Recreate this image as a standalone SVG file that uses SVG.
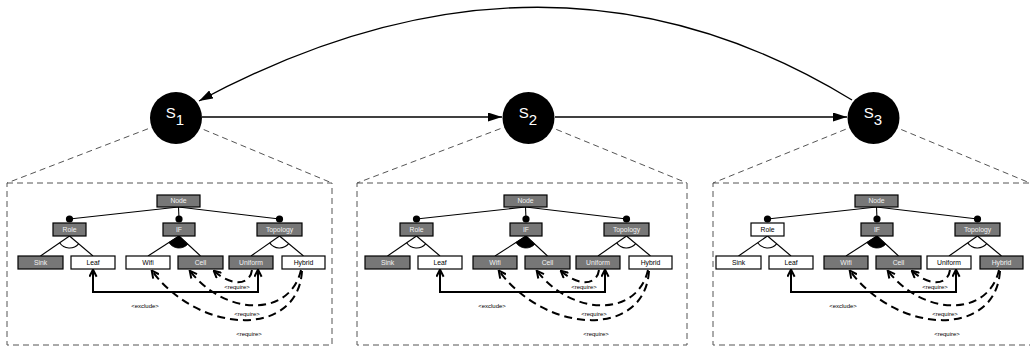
<svg xmlns="http://www.w3.org/2000/svg" width="1030" height="347" viewBox="0 0 1030 347">
<style>
.bg{fill:#fff}
.frame{fill:none;stroke:#555;stroke-width:1;stroke-dasharray:6 4}
.lead{stroke:#555;stroke-width:1;stroke-dasharray:6 4}
.state{fill:#000}
.st{font-family:"Liberation Sans",Arial,sans-serif;font-size:15px;fill:#fff;text-anchor:middle}
.main{fill:none;stroke:#000;stroke-width:1.3}
.b{stroke:#000;stroke-width:1.2}
.g{fill:#777}
.w{fill:#fff}
.lb{font-family:"Liberation Sans",Arial,sans-serif;font-size:6.8px;text-anchor:middle}
.lg{fill:#f2f2f2}
.lw{fill:#000}
.tl{fill:none;stroke:#000;stroke-width:1.1}
.mand{fill:#000}
.orf{fill:#000;stroke:#000;stroke-width:0.8}
.exc{fill:none;stroke:#000;stroke-width:2;marker-start:url(#open);marker-end:url(#open)}
.req{fill:none;stroke:#000;stroke-width:2;stroke-dasharray:8 5;marker-end:url(#open)}
.cl{font-family:"Liberation Sans",Arial,sans-serif;font-size:6px;text-anchor:middle;fill:#000}
</style>
<defs>
<marker id="tri" viewBox="0 0 10 10" refX="10" refY="5" markerWidth="14" markerHeight="9" markerUnits="userSpaceOnUse" orient="auto" preserveAspectRatio="none">
<path d="M0,0 L10,5 L0,10 Z" fill="#000"/>
</marker>
<marker id="open" viewBox="0 0 10 10" refX="8.5" refY="5" markerWidth="9" markerHeight="9" markerUnits="userSpaceOnUse" orient="auto-start-reverse">
<path d="M1,1 L9,5 L1,9" fill="none" stroke="#000" stroke-width="2.2"/>
</marker>
</defs>
<rect class="bg" x="0" y="0" width="1030" height="347"/>

<g id="frames">
<line class="lead" x1="176" y1="118" x2="7" y2="183"/>
<line class="lead" x1="176" y1="118" x2="332" y2="183"/>
<line class="lead" x1="528.5" y1="118" x2="357" y2="183"/>
<line class="lead" x1="528.5" y1="118" x2="687" y2="183"/>
<line class="lead" x1="873.5" y1="118" x2="713" y2="183"/>
<line class="lead" x1="873.5" y1="118" x2="1030" y2="183"/>
<rect class="frame" x="7" y="183" width="325" height="162"/>
<rect class="frame" x="357" y="183" width="330" height="162"/>
<rect class="frame" x="713" y="183" width="330" height="162"/>
</g>

<g id="connectors">
<path class="main" d="M202,117 L502,117" marker-end="url(#tri)"/>
<path class="main" d="M555,117 L847,117" marker-end="url(#tri)"/>
<path class="main" d="M852,100 Q548,-86 199,101" marker-end="url(#tri)"/>
</g>

<g id="S1"><circle class="state" cx="176" cy="118" r="26"/><text class="st" x="175" y="117.5">S<tspan dy="7.5">1</tspan></text></g>
<g id="S2"><circle class="state" cx="528.5" cy="118" r="26"/><text class="st" x="528" y="117.5">S<tspan dy="7.5">2</tspan></text></g>
<g id="S3"><circle class="state" cx="873.5" cy="118" r="26"/><text class="st" x="873" y="117.5">S<tspan dy="7.5">3</tspan></text></g>

<!-- Feature model 1 -->
<g id="fm1">
<g id="fm1-connectors">
<line class="tl" x1="178.5" y1="207" x2="69.5" y2="219"/>
<line class="tl" x1="178.5" y1="207" x2="179" y2="219"/>
<line class="tl" x1="178.5" y1="207" x2="279.5" y2="219"/>
<line class="tl" x1="69.5" y1="236" x2="40.5" y2="256"/>
<line class="tl" x1="69.5" y1="236" x2="93" y2="256"/>
<path class="tl" d="M59.6,242.8 A12,12 0 0,0 78.6,243.8"/>
<line class="tl" x1="179" y1="236" x2="148" y2="256"/>
<line class="tl" x1="179" y1="236" x2="200.5" y2="256"/>
<path class="orf" d="M179,236 L168.9,242.5 A12,12 0 0,0 187.8,244.2 Z"/>
<line class="tl" x1="279.5" y1="236" x2="251" y2="256"/>
<line class="tl" x1="279.5" y1="236" x2="303.5" y2="256"/>
<path class="tl" d="M269.7,242.9 A12,12 0 0,0 288.7,243.7"/>
<circle class="mand" cx="69.5" cy="219" r="3.6"/>
<circle class="mand" cx="179" cy="219" r="3.6"/>
<circle class="mand" cx="279.5" cy="219" r="3.6"/>
<path class="exc" d="M93,270 V292 H258 V270"/>
<path class="req" d="M252,270 C250,285 232,287 214,271"/>
<path class="req" d="M301,270 C290,318 225,316 190,271"/>
<path class="req" d="M302,271 C298,338 200,335 152,271"/>
<text class="cl" x="145" y="308">&lt;exclude&gt;</text>
<text class="cl" x="237" y="289">&lt;require&gt;</text>
<text class="cl" x="247" y="316">&lt;require&gt;</text>
<text class="cl" x="249" y="336">&lt;require&gt;</text>
</g>
<g id="fm1-Node"><rect class="b g" x="157" y="195" width="43" height="12"/><text class="lb lg" x="178.5" y="203.4">Node</text></g>
<g id="fm1-Role"><rect class="b g" x="53" y="223" width="33" height="13"/><text class="lb lg" x="69.5" y="231.9">Role</text></g>
<g id="fm1-IF"><rect class="b g" x="163" y="223" width="32" height="13"/><text class="lb lg" x="179" y="231.9">IF</text></g>
<g id="fm1-Topology"><rect class="b g" x="257" y="223" width="45" height="13"/><text class="lb lg" x="279.5" y="231.9">Topology</text></g>
<g id="fm1-Sink"><rect class="b g" x="18" y="256" width="45" height="13"/><text class="lb lg" x="40.5" y="264.9">Sink</text></g>
<g id="fm1-Leaf"><rect class="b w" x="71" y="256" width="44" height="13"/><text class="lb lw" x="93" y="264.9">Leaf</text></g>
<g id="fm1-Wifi"><rect class="b w" x="126" y="256" width="44" height="13"/><text class="lb lw" x="148" y="264.9">Wifi</text></g>
<g id="fm1-Cell"><rect class="b g" x="178" y="256" width="45" height="13"/><text class="lb lg" x="200.5" y="264.9">Cell</text></g>
<g id="fm1-Uniform"><rect class="b g" x="229" y="256" width="44" height="13"/><text class="lb lg" x="251" y="264.9">Uniform</text></g>
<g id="fm1-Hybrid"><rect class="b w" x="282" y="256" width="43" height="13"/><text class="lb lw" x="303.5" y="264.9">Hybrid</text></g>
</g>

<!-- Feature model 2 -->
<g id="fm2" transform="translate(347,0)">
<g id="fm2-connectors">
<line class="tl" x1="178.5" y1="207" x2="69.5" y2="219"/>
<line class="tl" x1="178.5" y1="207" x2="179" y2="219"/>
<line class="tl" x1="178.5" y1="207" x2="279.5" y2="219"/>
<line class="tl" x1="69.5" y1="236" x2="40.5" y2="256"/>
<line class="tl" x1="69.5" y1="236" x2="93" y2="256"/>
<path class="tl" d="M59.6,242.8 A12,12 0 0,0 78.6,243.8"/>
<line class="tl" x1="179" y1="236" x2="148" y2="256"/>
<line class="tl" x1="179" y1="236" x2="200.5" y2="256"/>
<path class="orf" d="M179,236 L168.9,242.5 A12,12 0 0,0 187.8,244.2 Z"/>
<line class="tl" x1="279.5" y1="236" x2="251" y2="256"/>
<line class="tl" x1="279.5" y1="236" x2="303.5" y2="256"/>
<path class="tl" d="M269.7,242.9 A12,12 0 0,0 288.7,243.7"/>
<circle class="mand" cx="69.5" cy="219" r="3.6"/>
<circle class="mand" cx="179" cy="219" r="3.6"/>
<circle class="mand" cx="279.5" cy="219" r="3.6"/>
<path class="exc" d="M93,270 V292 H258 V270"/>
<path class="req" d="M252,270 C250,285 232,287 214,271"/>
<path class="req" d="M301,270 C290,318 225,316 190,271"/>
<path class="req" d="M302,271 C298,338 200,335 152,271"/>
<text class="cl" x="145" y="308">&lt;exclude&gt;</text>
<text class="cl" x="237" y="289">&lt;require&gt;</text>
<text class="cl" x="247" y="316">&lt;require&gt;</text>
<text class="cl" x="249" y="336">&lt;require&gt;</text>
</g>
<g id="fm2-Node"><rect class="b g" x="157" y="195" width="43" height="12"/><text class="lb lg" x="178.5" y="203.4">Node</text></g>
<g id="fm2-Role"><rect class="b g" x="53" y="223" width="33" height="13"/><text class="lb lg" x="69.5" y="231.9">Role</text></g>
<g id="fm2-IF"><rect class="b g" x="163" y="223" width="32" height="13"/><text class="lb lg" x="179" y="231.9">IF</text></g>
<g id="fm2-Topology"><rect class="b g" x="257" y="223" width="45" height="13"/><text class="lb lg" x="279.5" y="231.9">Topology</text></g>
<g id="fm2-Sink"><rect class="b g" x="18" y="256" width="45" height="13"/><text class="lb lg" x="40.5" y="264.9">Sink</text></g>
<g id="fm2-Leaf"><rect class="b w" x="71" y="256" width="44" height="13"/><text class="lb lw" x="93" y="264.9">Leaf</text></g>
<g id="fm2-Wifi"><rect class="b g" x="126" y="256" width="44" height="13"/><text class="lb lg" x="148" y="264.9">Wifi</text></g>
<g id="fm2-Cell"><rect class="b g" x="178" y="256" width="45" height="13"/><text class="lb lg" x="200.5" y="264.9">Cell</text></g>
<g id="fm2-Uniform"><rect class="b g" x="229" y="256" width="44" height="13"/><text class="lb lg" x="251" y="264.9">Uniform</text></g>
<g id="fm2-Hybrid"><rect class="b w" x="282" y="256" width="43" height="13"/><text class="lb lw" x="303.5" y="264.9">Hybrid</text></g>
</g>

<!-- Feature model 3 -->
<g id="fm3" transform="translate(698,0)">
<g id="fm3-connectors">
<line class="tl" x1="178.5" y1="207" x2="69.5" y2="219"/>
<line class="tl" x1="178.5" y1="207" x2="179" y2="219"/>
<line class="tl" x1="178.5" y1="207" x2="279.5" y2="219"/>
<line class="tl" x1="69.5" y1="236" x2="40.5" y2="256"/>
<line class="tl" x1="69.5" y1="236" x2="93" y2="256"/>
<path class="tl" d="M59.6,242.8 A12,12 0 0,0 78.6,243.8"/>
<line class="tl" x1="179" y1="236" x2="148" y2="256"/>
<line class="tl" x1="179" y1="236" x2="200.5" y2="256"/>
<path class="orf" d="M179,236 L168.9,242.5 A12,12 0 0,0 187.8,244.2 Z"/>
<line class="tl" x1="279.5" y1="236" x2="251" y2="256"/>
<line class="tl" x1="279.5" y1="236" x2="303.5" y2="256"/>
<path class="tl" d="M269.7,242.9 A12,12 0 0,0 288.7,243.7"/>
<circle class="mand" cx="69.5" cy="219" r="3.6"/>
<circle class="mand" cx="179" cy="219" r="3.6"/>
<circle class="mand" cx="279.5" cy="219" r="3.6"/>
<path class="exc" d="M93,270 V292 H258 V270"/>
<path class="req" d="M252,270 C250,285 232,287 214,271"/>
<path class="req" d="M301,270 C290,318 225,316 190,271"/>
<path class="req" d="M302,271 C298,338 200,335 152,271"/>
<text class="cl" x="145" y="308">&lt;exclude&gt;</text>
<text class="cl" x="237" y="289">&lt;require&gt;</text>
<text class="cl" x="247" y="316">&lt;require&gt;</text>
<text class="cl" x="249" y="336">&lt;require&gt;</text>
</g>
<g id="fm3-Node"><rect class="b g" x="157" y="195" width="43" height="12"/><text class="lb lg" x="178.5" y="203.4">Node</text></g>
<g id="fm3-Role"><rect class="b w" x="53" y="223" width="33" height="13"/><text class="lb lw" x="69.5" y="231.9">Role</text></g>
<g id="fm3-IF"><rect class="b g" x="163" y="223" width="32" height="13"/><text class="lb lg" x="179" y="231.9">IF</text></g>
<g id="fm3-Topology"><rect class="b g" x="257" y="223" width="45" height="13"/><text class="lb lg" x="279.5" y="231.9">Topology</text></g>
<g id="fm3-Sink"><rect class="b w" x="18" y="256" width="45" height="13"/><text class="lb lw" x="40.5" y="264.9">Sink</text></g>
<g id="fm3-Leaf"><rect class="b w" x="71" y="256" width="44" height="13"/><text class="lb lw" x="93" y="264.9">Leaf</text></g>
<g id="fm3-Wifi"><rect class="b g" x="126" y="256" width="44" height="13"/><text class="lb lg" x="148" y="264.9">Wifi</text></g>
<g id="fm3-Cell"><rect class="b g" x="178" y="256" width="45" height="13"/><text class="lb lg" x="200.5" y="264.9">Cell</text></g>
<g id="fm3-Uniform"><rect class="b w" x="229" y="256" width="44" height="13"/><text class="lb lw" x="251" y="264.9">Uniform</text></g>
<g id="fm3-Hybrid"><rect class="b g" x="282" y="256" width="43" height="13"/><text class="lb lg" x="303.5" y="264.9">Hybrid</text></g>
</g>
</svg>
